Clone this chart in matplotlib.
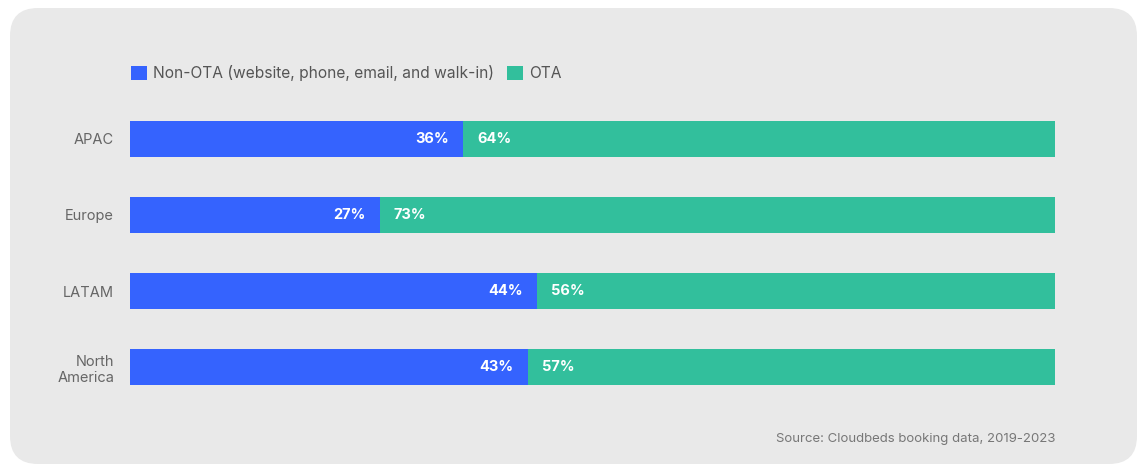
import matplotlib.pyplot as plt
from matplotlib.patches import FancyBboxPatch, Patch

regions = ["APAC", "Europe", "LATAM", "North\nAmerica"]
non_ota = [36, 27, 44, 43]
ota = [64, 73, 56, 57]
series_names = ["Non-OTA (website, phone, email, and walk-in)", "OTA"]
source = "Source: Cloudbeds booking data, 2019-2023"

blue = "#3563fe"
green = "#32bf9c"
bg = "#e9e9e9"

plt.rcParams['font.family'] = ['Inter', 'DejaVu Sans']

W, H = 1147, 472
fig = plt.figure(figsize=(W / 100, H / 100), dpi=100)
fig.patch.set_facecolor("white")

# rounded grey panel behind everything
panel = FancyBboxPatch((0.10 + 0.28, 0.08 + 0.28), 11.27 - 0.56, 4.56 - 0.56,
                       boxstyle="round,pad=0.28", transform=fig.dpi_scale_trans,
                       facecolor=bg, edgecolor="none", zorder=-5)
fig.patches.append(panel)

half = 0.47 / 2
ax = fig.add_axes([130 / W, (H - 385) / H, (1055 - 130) / W, (385 - 121) / H])
ax.set_zorder(1)
ax.set_facecolor("none")
y = range(len(regions))
b1 = ax.barh(y, non_ota, height=0.47, color=blue, zorder=3)
b2 = ax.barh(y, ota, left=non_ota, height=0.47, color=green, zorder=3)
ax.set_xlim(0, 100)
ax.set_ylim(len(regions) - 1 + half, -half)

for i, (a, b) in enumerate(zip(non_ota, ota)):
    ax.annotate(f"{a}%", (a, i), xytext=(-14, 0), textcoords="offset pixels",
                ha="right", va="center", color="white", fontsize=10.5, fontweight="bold", zorder=4)
    ax.annotate(f"{b}%", (a, i), xytext=(14, 0), textcoords="offset pixels",
                ha="left", va="center", color="white", fontsize=10.5, fontweight="bold", zorder=4)

ax.set_yticks(list(y))
ax.set_yticklabels(regions, fontsize=10.5, color="#666666")
ax.tick_params(axis="y", length=0, pad=11.5)
ax.set_xticks([])
for s in ax.spines.values():
    s.set_visible(False)

handles = [Patch(facecolor=blue, edgecolor="none"), Patch(facecolor=green, edgecolor="none")]
leg = fig.legend(handles, series_names, loc="center left", bbox_to_anchor=(131 / W, 1 - 73 / H),
                 ncol=2, frameon=False, fontsize=11.2, labelcolor="#555555",
                 borderpad=0, borderaxespad=0,
                 handlelength=1.0, handleheight=1.0, handletextpad=0.4, columnspacing=0.85)
leg.set_zorder(2)

fig.text(1055 / W, 1 - 439 / H, source, ha="right", va="center", fontsize=9.5, color="#777777")

fig.savefig("out.png", dpi=100, facecolor="white")
